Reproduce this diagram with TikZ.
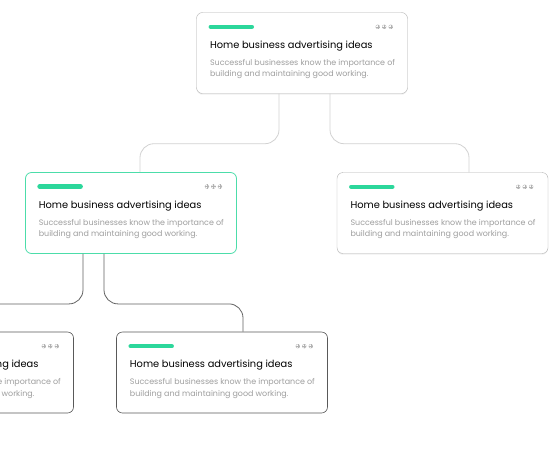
\documentclass[tikz,border=0pt]{standalone}
\usepackage{fontspec}
\setmainfont{Poppins}
\usetikzlibrary{positioning, calc, shadows}

\definecolor{mint}{HTML}{2CD79B}
\definecolor{linkgray}{HTML}{D2D2D2}

\begin{document}
\begin{tikzpicture}[x=1pt, y=-1pt,
  card/.style={draw=black!30, fill=white, rounded corners=6pt, minimum width=211pt, minimum height=81pt, inner sep=0pt},
  softcard/.style={card, drop shadow={opacity=0.12, shadow xshift=0pt, shadow yshift=-1.2pt}},
  mintcard/.style={card, draw=mint!85, line width=0.8pt},
  darkcard/.style={card, draw=black!65, line width=0.6pt},
  cardtag/.style={line width=4.5pt, line cap=round, draw=mint},
  cardtitle/.style={anchor=base west, inner sep=0pt, font=\fontsize{9.85}{11}\selectfont},
  cardtext/.style={anchor=base west, inner sep=0pt, text=black!38, font=\fontsize{7.95}{9}\selectfont},
  dot/.style={circle, draw=black!30, line width=0.3pt, minimum size=4pt, inner sep=0pt},
  link/.style={draw=linkgray, line width=0.8pt, rounded corners=14pt},
  darklink/.style={link, draw=black!62},
]

% page and clipping
\fill[white] (0,0) rectangle (557,456);
\clip (0,0) rectangle (557,456);

% cards
\node[softcard] (top) at (302,53) {};
\node[mintcard] (left) at (131,213) {};
\node[softcard] (right) at (442.5,213) {};
\node[darkcard] (low) at (222,372.5) {};
\node[darkcard] (cut) at (-32,372.5) {};

% connectors
\draw[link] ([xshift=-23pt]top.south) -- ++(0,50) -| ([xshift=9pt]left.north);
\draw[link] ([xshift=28pt]top.south) -- ++(0,50) -| ([xshift=26.5pt]right.north);
\draw[darklink] ([xshift=-48pt]left.south) -- ++(0,50) -| ([xshift=-30pt]cut.north);
\draw[darklink] ([xshift=-27pt]left.south) -- ++(0,50) -| ([xshift=21pt]low.north);

% card contents
\foreach \c in {top,left,right,low,cut} {
  \draw[cardtag] ([shift={(14.5pt,-14.5pt)}]\c.north west) -- ++(41pt,0);
  \node[cardtitle] (\c-title) at ([shift={(13.5pt,-36pt)}]\c.north west) {Home business advertising ideas};
  \node[cardtext] (\c-line1) at ([shift={(13.5pt,-53pt)}]\c.north west) {Successful businesses know the importance of};
  \node[cardtext] (\c-line2) at ([shift={(13.5pt,-64.5pt)}]\c.north west) {building and maintaining good working.};
  \foreach \dx [count=\k] in {-30,-23.5,-17} {
    \node[dot] (\c-i\k) at ([shift={(\dx pt,-14.5pt)}]\c.north east) {};
    \draw[black!30, line width=0.3pt] (\c-i\k.north) -- (\c-i\k.south) (\c-i\k.west) -- (\c-i\k.east);
  }
}

\end{tikzpicture}
\end{document}
